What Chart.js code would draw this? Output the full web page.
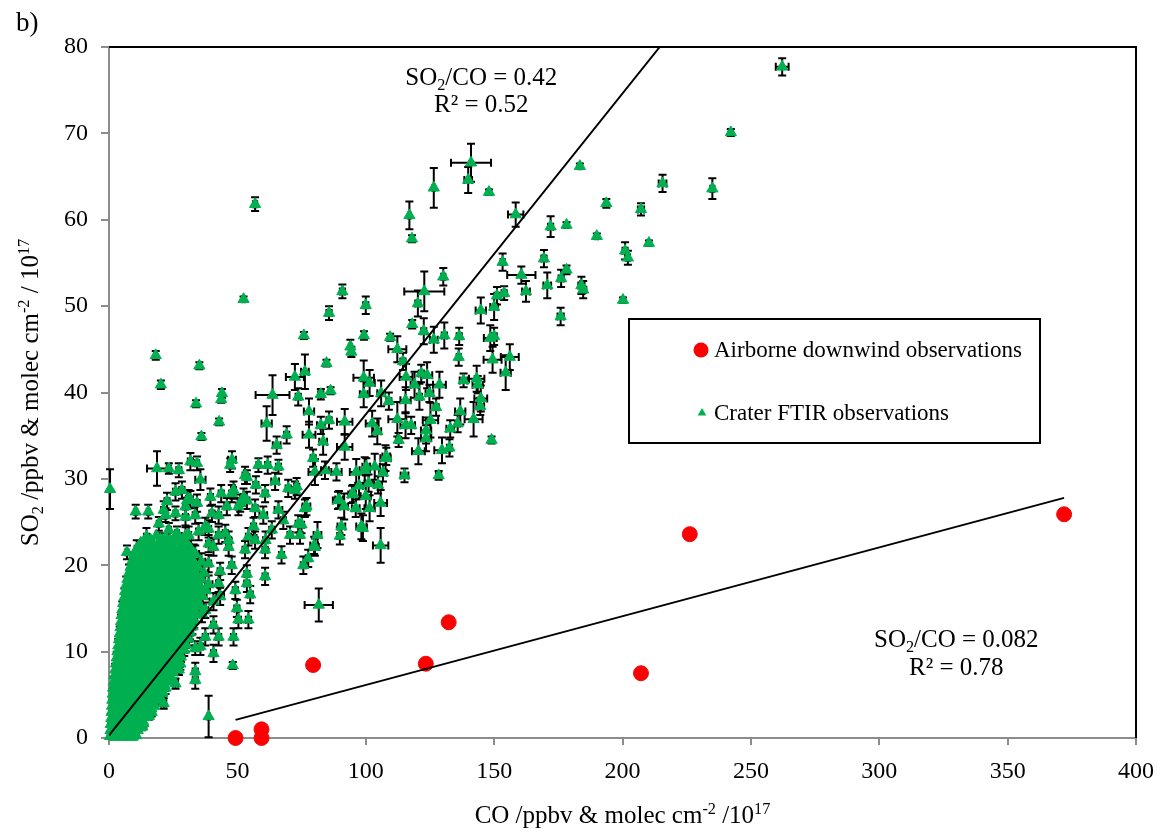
<!DOCTYPE html>
<html>
<head>
<meta charset="utf-8">
<script src="https://cdn.jsdelivr.net/npm/chart.js@4/dist/chart.umd.min.js"></script>
<style>
  html, body { margin: 0; padding: 0; background: #ffffff; }
  #wrap { position: relative; width: 1166px; height: 833px; }
</style>
</head>
<body>
<div id="wrap"><canvas id="chart" width="1166" height="833"></canvas></div>
<script>
// ---- Airborne downwind observations (CO, SO2) ----
const airborneCO  = [49.3, 59.4, 59.4, 79.5, 123.4, 132.3, 207.2, 226.2, 372.0];
const airborneSO2 = [0.0, 0.0, 1.0, 8.45, 8.6, 13.4, 7.5, 23.6, 25.9];

// ---- Fit lines (end points) ----
const ftirFitCO  = [0, 214.5];
const ftirFitSO2 = [0.3, 80];
const airFitCO   = [49.3, 372];
const airFitSO2  = [2.1, 27.8];

// ---- Crater FTIR observations: [CO, SO2, CO error, SO2 error] ----
const ftirUpper = [
  [262.2,77.7,2.5,1.0],[242.2,70.1,0.8,0.4],[215.6,64.2,1.5,1.0],[235.0,63.6,0.8,1.2],[207.2,61.2,1.2,0.7],
  [193.7,61.9,0.6,0.5],[183.4,66.2,0.5,0.3],[148.0,63.2,0.6,0.3],[141.0,66.6,7.8,2.2],[139.9,64.6,1.5,1.5],
  [126.5,63.7,0.5,2.3],[117.0,60.5,0.5,1.6],[118.0,57.8,0.5,0.4],[158.4,60.6,3.0,1.4],[172.0,59.2,1.0,1.2],
  [178.2,59.4,0.6,0.3],[201.0,56.4,1.0,1.0],[202.1,55.6,0.8,0.8],[210.3,57.3,0.5,0.3],[200.2,50.7,0.5,0.3],
  [190.0,58.1,0.5,0.3],[184.0,52.4,1.2,1.0],[184.7,51.9,1.2,1.0],[56.9,61.8,0.8,0.8],[52.4,50.8,0.5,0.3],
  [160.6,53.6,5.5,1.0],[162.4,51.7,1.5,1.2],[170.7,52.4,1.5,1.5],[169.4,55.5,1.0,1.0],[153.3,55.1,0.8,1.0],
  [176.1,53.2,1.0,1.0],[178.2,54.2,0.7,0.5],[175.9,48.8,1.2,1.0],[151.1,51.2,1.0,1.0],[153.9,51.5,1.0,0.8],
  [150.0,49.9,1.5,1.5],[144.8,49.5,2.0,1.5],[130.2,53.4,0.8,1.0],[122.8,51.7,7.8,2.3],[120.3,50.3,1.0,1.5],
  [118.1,47.9,0.8,0.5],[122.6,47.1,1.0,1.5],[126.5,46.1,1.5,1.5],[130.6,46.6,1.0,1.5],[136.4,46.5,1.0,1.0],
  [148.5,46.3,2.5,1.5],[150.0,46.5,1.0,1.0],[85.7,49.2,1.0,0.8],[90.9,51.7,1.0,0.8],[100.0,50.1,1.0,1.0],
  [94.0,45.3,0.6,0.8],[99.3,46.6,0.6,0.5],[109.5,46.4,0.6,0.4],[112.3,45.0,3.5,1.5],[75.9,46.6,0.5,0.4]
];

const ftirMiddle = [
  [94.4,44.7,0.6,0.6],[114.5,43.6,1.0,1.0],[136.2,44.1,0.8,1.0],[84.7,43.4,0.5,0.4],[86.3,40.2,0.5,0.4],
  [82.5,39.8,1.0,0.6],[72.4,41.8,3.5,1.5],[76.3,42.4,1.5,2.0],[35.2,43.1,0.5,0.4],[18.2,44.3,0.5,0.5],
  [20.2,40.9,0.5,0.5],[33.9,38.7,0.5,0.4],[44.0,39.9,0.5,0.5],[43.7,39.2,0.5,0.4],[42.9,36.6,0.5,0.4],
  [36.0,34.9,0.5,0.4],[31.7,32.0,1.0,1.0],[34.3,31.8,0.8,0.8],[35.6,29.9,2.0,1.2],[47.9,32.2,1.5,1.0],
  [47.2,31.6,1.0,0.8],[53.0,30.4,1.0,1.0],[58.2,31.6,0.8,0.8],[61.4,36.4,2.0,2.0],[63.7,39.7,6.6,2.3],
  [65.3,33.9,1.5,1.0],[69.2,35.1,1.0,1.0],[61.8,31.6,1.0,1.0],[66.0,31.4,1.0,0.8],[99.2,41.7,4.0,2.0],
  [101.5,41.1,2.0,1.5],[99.2,39.8,1.5,1.5],[106.0,39.9,1.5,1.5],[109.0,39.0,1.0,1.0],[115.7,41.8,2.5,1.5],
  [119.0,40.9,1.5,1.5],[121.6,42.2,1.0,1.0],[123.9,42.0,2.0,1.5],[128.7,40.9,2.5,1.5],[120.9,39.5,1.0,1.5],
  [124.8,39.9,1.5,1.0],[115.5,39.1,2.0,1.5],[127.4,38.3,1.0,1.0],[91.8,36.6,3.0,1.5],[85.7,36.8,1.0,1.0],
  [82.5,36.2,1.5,1.0],[77.9,37.8,2.0,1.5],[73.7,39.5,1.0,1.0],[77.9,35.1,2.5,1.5],[83.4,34.3,1.5,1.5],
  [91.8,33.7,3.0,1.5],[79.5,32.4,1.0,1.0],[102.5,36.4,2.5,1.5],[104.5,35.5,1.5,1.5],[112.3,36.9,3.5,2.0],
  [115.5,36.2,2.0,1.5],[117.7,36.2,1.5,1.0],[123.5,35.6,2.0,1.5],[125.2,36.8,3.0,2.0],[136.8,37.8,2.0,1.5],
  [132.9,35.8,1.5,1.0],[135.8,36.4,1.0,1.0],[142.0,36.9,3.5,2.0],[144.8,39.3,2.5,1.5],[144.6,38.4,1.5,1.0],
  [143.2,41.6,3.0,1.5],[143.6,40.9,2.0,1.0],[138.1,41.4,1.5,0.8],[149.4,43.8,3.5,1.5],[154.5,42.3,2.0,2.0],
  [156.1,44.1,3.5,1.5],[149.0,34.5,0.6,0.4],[128.4,30.4,1.0,0.5],[132.6,33.6,1.0,1.0],[129.7,33.3,3.0,1.5],
  [120.5,33.2,2.5,1.5],[123.5,34.7,2.0,1.5],[115.1,30.4,1.5,0.8],[112.8,34.5,1.0,0.8],[107.7,32.4,2.0,1.5],
  [106.7,30.7,1.5,1.0],[103.5,31.4,2.0,1.5],[99.6,31.0,2.0,1.5],[96.3,30.8,2.5,1.5],[88.6,30.8,2.0,1.0],
  [84.1,31.0,1.5,1.0],[80.2,30.8,2.5,1.5],[100.2,31.4,1.5,1.0],[108.0,32.6,1.5,1.0],[18.7,31.2,3.9,2.0],
  [23.3,31.2,0.8,0.6],[27.2,31.0,1.0,0.8],[53.7,30.2,1.0,0.8],[0.4,28.8,0.3,2.3],[64.7,29.7,1.5,1.0]
];

const ftirLower = [
  [105.8,27.2,2.5,1.5],[101.5,26.6,2.0,1.5],[96.1,26.6,1.5,1.0],[91.6,26.8,1.5,1.5],[94.7,28.2,1.5,1.0],
  [100.0,28.0,2.0,1.5],[97.4,29.2,1.5,1.5],[101.1,29.5,1.5,1.0],[104.8,29.3,1.5,1.0],[89.6,27.6,1.5,1.0],
  [98.9,24.3,1.5,1.5],[89.9,23.4,1.0,1.0],[105.8,22.3,3.0,2.0],[81.2,23.5,1.5,1.5],[75.0,24.7,1.0,1.0],
  [76.9,26.8,1.5,1.0],[79.9,22.3,1.5,1.0],[66.0,26.4,1.5,1.0],[72.4,28.7,1.0,1.0],[69.8,28.9,1.0,1.0],
  [61.0,22.9,1.0,1.0],[56.3,24.5,1.0,1.0],[54.3,23.3,1.0,1.0],[46.6,22.9,1.0,1.0],[42.7,23.5,1.0,1.0],
  [38.8,24.2,1.0,1.0],[34.9,23.9,1.0,1.0],[31.0,23.5,1.0,1.0],[40.1,26.0,1.0,1.0],[45.9,26.8,1.0,1.0],
  [51.1,27.2,1.0,1.0],[56.9,26.6,1.0,1.0],[60.1,25.8,1.5,1.0],[60.8,28.3,1.0,1.0],[57.2,29.3,1.0,1.0],
  [52.4,27.9,1.0,1.0],[48.5,28.7,1.0,1.0],[43.7,28.3,1.0,1.0],[39.5,27.9,1.0,1.0],[34.3,27.2,1.0,1.0],
  [31.7,27.6,1.0,1.0],[28.4,28.7,1.0,1.0],[29.8,25.6,1.0,1.0],[25.9,28.5,1.0,1.0],[30.4,27.5,1.0,1.0],
  [22.6,27.4,1.0,1.0],[10.4,26.2,0.6,0.8],[15.3,26.2,0.6,0.8],[21.3,26.4,1.0,1.0],[47.8,28.3,1.0,1.0],
  [50.4,26.8,1.0,1.0],[53.7,27.5,1.0,1.0],[73.1,29.1,1.0,1.0],[76.3,26.6,1.0,1.0],[89.2,27.5,2.0,1.0],
  [95.0,28.3,1.0,1.0],[90.5,24.5,1.5,1.0],[98.3,24.5,2.0,1.5],[80.2,22.1,1.5,1.0],[77.6,20.8,1.0,1.0],
  [75.7,20.0,1.0,1.0],[67.2,21.2,1.0,1.0],[60.8,18.7,1.0,1.0],[55.0,16.6,1.0,1.0],[53.7,17.9,1.0,1.0],
  [49.2,17.1,1.0,1.0],[50.4,13.7,1.0,1.0],[54.3,13.7,1.0,1.0],[49.8,15.0,1.0,1.0],[48.5,11.7,1.0,1.0],
  [42.7,11.7,1.0,1.0],[40.7,9.8,1.0,1.0],[37.5,11.7,1.0,1.0],[35.6,10.6,1.0,1.0],[33.6,7.7,1.0,1.0],
  [33.6,6.7,1.0,1.0],[38.8,2.5,0.5,2.4],[48.2,8.4,0.5,0.4],[40.7,13.1,1.0,1.0],[36.2,14.4,1.0,1.0],
  [42.7,17.9,1.0,1.0],[46.6,22.1,1.0,1.0],[40.7,22.1,1.0,1.0],[33.0,21.4,1.0,1.0],[29.8,20.6,1.0,1.0],
  [33.6,18.7,1.0,1.0],[38.8,20.2,1.0,1.0],[43.3,19.3,1.0,1.0],[47.8,20.0,1.0,1.0],[53.7,19.0,1.0,1.0],
  [53.0,21.8,1.0,1.0],[56.9,22.9,1.0,1.0],[60.8,21.8,1.0,1.0],[63.4,24.1,1.0,1.0],[70.5,23.5,1.0,1.0],
  [74.4,23.5,1.0,1.0],[67.9,25.2,1.0,1.0],[73.7,24.8,1.0,1.0],[81.7,15.4,5.5,1.9],[7.8,18.3,0.6,0.8],
  [11.0,17.9,0.6,0.8],[14.2,18.3,0.8,0.8],[7.1,15.2,0.6,0.8],[15.5,20.6,0.8,0.8],[18.1,21.4,0.8,0.8],
  [20.7,22.9,0.8,0.8],[23.3,24.1,0.8,0.8],[26.5,23.7,0.8,0.8],[19.4,24.8,0.8,0.8],[22.0,25.8,0.8,0.8],
  [25.9,26.0,0.8,0.8],[29.8,26.8,1.0,1.0],[31.0,27.7,1.0,1.0],[33.6,25.8,1.0,1.0],[37.5,24.5,1.0,1.0],
  [42.7,25.8,1.0,1.0],[45.3,23.7,1.0,1.0],[38.8,22.5,1.0,1.0],[7.0,21.5,0.6,0.8]
];

// Dense core near the origin: [CO, SO2] or [CO, SO2, CO error, SO2 error]
const ftirCore = [
  [0.4,0.2],[2.1,0.1],[3.8,0.3],[5.6,0.1],[7.3,0.2],[9.0,0.1],[10.6,0.3,0.6,0.3],
  [0.6,0.9,0.3,0.4],[2.4,1.0],[4.1,0.8],[5.9,0.9],[7.7,1.0],[9.4,0.8],[11.2,0.9],[12.9,1.3,0.8,0.4],
  [0.7,1.6],[2.6,1.7],[4.4,1.5],[6.2,1.6],[8.1,1.7],[9.9,1.5],[11.7,1.6],[13.4,1.7,0.7,0.5],
  [0.9,2.3,0.4,0.5],[2.8,2.4],[4.7,2.2],[6.6,2.3],[8.5,2.4],[10.4,2.2],[12.3,2.3],[14.1,2.4],[15.5,2.5,0.8,0.4],
  [1.0,3.0],[3.0,3.1],[5.0,2.9],[7.0,3.0],[9.0,3.1],[11.0,2.9],[13.0,3.0],[15.0,3.1],[16.6,3.0,0.9,0.5],
  [1.2,3.7,0.5,0.6],[3.3,3.8],[5.3,3.6],[7.4,3.7],[9.4,3.8],[11.5,3.6],[13.5,3.7],[15.6,3.8],[17.6,3.7],[21.3,4.0,1.0,0.6],
  [1.3,4.4],[3.5,4.5],[5.6,4.3],[7.8,4.4],[9.9,4.5],[12.0,4.3],[14.2,4.4],[16.3,4.5],[18.5,4.4,1.0,0.5],
  [1.5,5.1,0.5,0.6],[3.7,5.2],[5.9,5.0],[8.1,5.1],[10.3,5.2],[12.5,5.0],[14.7,5.1],[16.9,5.2],[19.1,5.0],[20.8,5.2,1.0,0.6],
  [1.6,5.8],[3.9,5.9],[6.2,5.7],[8.5,5.8],[10.8,5.9],[13.0,5.7],[15.3,5.8],[17.6,5.9],[19.9,5.7],[22.0,5.8,1.0,0.7],
  [1.8,6.5,0.5,0.6],[4.1,6.6],[6.5,6.4],[8.8,6.5],[11.2,6.6],[13.5,6.4],[15.9,6.5],[18.2,6.6],[20.6,6.4],[22.9,6.5],[25.9,6.3,1.0,0.6],
  [2.1,7.2],[4.5,7.3],[6.9,7.1],[9.3,7.2],[11.7,7.3],[14.1,7.1],[16.5,7.2],[18.9,7.3],[21.3,7.1],[23.7,7.2,1.0,0.6],
  [2.4,7.9,0.6,0.7],[4.8,8.0],[7.3,7.8],[9.7,7.9],[12.2,8.0],[14.6,7.8],[17.1,7.9],[19.5,8.0],[22.0,7.8],[24.4,7.9],[27.2,7.9,1.0,0.6],
  [2.7,8.6],[5.2,8.7],[7.7,8.5],[10.2,8.6],[12.7,8.7],[15.2,8.5],[17.7,8.6],[20.2,8.7],[22.7,8.5],[25.2,8.6],[27.8,8.6,1.0,0.7],
  [3.0,9.3,0.6,0.7],[5.5,9.4],[8.1,9.2],[10.6,9.3],[13.2,9.4],[15.7,9.2],[18.3,9.3],[20.8,9.4],[23.4,9.2],[25.9,9.3],[28.0,9.4,1.0,0.6],
  [3.3,10.0],[5.9,10.1],[8.5,9.9],[11.1,10.0],[13.7,10.1],[16.3,9.9],[18.9,10.0],[21.5,10.1],[24.1,9.9],[26.7,10.0],[29.3,10.2,1.0,0.7],
  [3.6,10.7,0.6,0.8],[6.2,10.8],[8.9,10.6],[11.5,10.7],[14.2,10.8],[16.8,10.6],[19.5,10.7],[22.1,10.8],[24.8,10.6],[27.4,10.7],[30.0,10.8,1.2,0.8],[33.6,10.4,1.0,0.8],
  [3.9,11.4],[6.6,11.5],[9.3,11.3],[12.0,11.4],[14.7,11.5],[17.4,11.3],[20.1,11.4],[22.8,11.5],[25.5,11.3],[28.2,11.4],[30.9,11.5,1.2,0.8],
  [4.2,12.1,0.7,0.8],[6.9,12.2],[9.7,12.0],[12.4,12.1],[15.2,12.2],[17.9,12.0],[20.7,12.1],[23.4,12.2],[26.2,12.0],[28.9,12.1],[31.6,12.2,1.2,0.8],
  [4.5,12.8],[7.3,12.9],[10.1,12.7],[12.9,12.8],[15.7,12.9],[18.5,12.7],[21.3,12.8],[24.1,12.9],[26.9,12.7],[29.7,12.8],[32.5,12.9,1.2,0.9],
  [4.7,13.5,0.7,0.8],[7.6,13.6],[10.4,13.4],[13.3,13.5],[16.1,13.6],[19.0,13.4],[21.8,13.5],[24.7,13.6],[27.5,13.4],[30.4,13.5],[33.2,13.6,1.2,0.9],
  [4.9,14.2],[7.8,14.3],[10.7,14.1],[13.6,14.2],[16.5,14.3],[19.4,14.1],[22.3,14.2],[25.2,14.3],[28.1,14.1],[31.0,14.2],[33.9,14.3,1.5,1.0],[37.5,14.8,1.2,0.9],
  [5.2,14.9,0.7,0.9],[8.1,15.0],[11.1,14.8],[14.0,14.9],[17.0,15.0],[19.9,14.8],[22.9,14.9],[25.8,15.0],[28.8,14.8],[31.7,14.9],[35.6,15.2,1.2,0.9],
  [5.5,15.6],[8.5,15.7],[11.5,15.5],[14.5,15.6],[17.5,15.7],[20.5,15.5],[23.5,15.6],[26.5,15.7],[29.5,15.5],[32.5,15.6],[40.7,15.8,1.5,1.0],
  [6.0,16.3,0.8,1.0],[9.0,16.4],[12.1,16.2],[15.1,16.3],[18.2,16.4],[21.2,16.2],[24.3,16.3],[27.3,16.4],[30.4,16.2],[33.4,16.3],[36.5,16.4,1.5,1.0],[43.3,16.4,1.5,1.0],
  [6.3,17.0],[9.4,17.1],[12.5,16.9],[15.6,17.0],[18.7,17.1],[21.8,16.9],[24.9,17.0],[28.0,17.1],[31.1,16.9],[34.2,17.0],[37.8,17.1,1.5,1.0],
  [6.7,17.7,0.8,1.0],[9.9,17.8],[13.0,17.6],[16.2,17.7],[19.3,17.8],[22.5,17.6],[25.6,17.7],[28.8,17.8],[31.9,17.6],[35.1,17.7],[38.8,17.8,1.5,1.0],
  [7.2,18.4],[10.4,18.5],[13.6,18.3],[16.8,18.4],[20.0,18.5],[23.2,18.3],[26.4,18.4],[29.6,18.5],[32.8,18.3],[36.0,18.4,1.5,1.0],
  [7.8,19.1,0.8,1.0],[11.0,19.2],[14.3,19.0],[17.5,19.1],[20.8,19.2],[24.0,19.0],[27.3,19.1],[30.5,19.2],[33.8,19.0],[37.0,19.1,1.5,1.0],
  [8.4,19.8],[11.7,19.9],[15.0,19.7],[18.3,19.8],[21.6,19.9],[24.9,19.7],[28.2,19.8],[31.5,19.9],[34.8,19.7,1.5,1.0],
  [9.0,20.5,0.8,1.0],[12.4,20.6],[15.7,20.4],[19.1,20.5],[22.4,20.6],[25.8,20.4],[29.1,20.5],[32.5,20.6],[36.0,20.4,1.5,1.0],
  [9.8,21.2],[13.2,21.3],[16.6,21.1],[20.0,21.2],[23.4,21.3],[26.8,21.1],[30.2,21.2],[33.6,21.3,1.5,1.0],
  [10.8,21.9,0.8,1.0],[14.3,22.0],[17.8,21.8],[21.3,21.9],[24.8,22.0],[28.3,21.8],[31.8,21.9,1.5,1.0],
  [12.4,22.6],[16.0,22.7],[19.6,22.5],[23.2,22.6],[26.8,22.7],[30.4,22.5,1.5,1.0],
  [14.6,23.3,1.0,1.0],[18.4,23.4],[22.2,23.2],[26.0,23.3],[29.8,23.4,1.5,1.0]
];

// More of the dense core, lying between the rows above
const ftirCoreFill = [
  [1.3,0.55],[3.0,0.5],[4.7,0.6],[6.5,0.55],[8.2,0.5],[9.9,0.6],
  [1.5,1.25],[3.3,1.3],[5.1,1.2],[7.0,1.25],[8.8,1.3],[10.6,1.2],[12.3,1.25],
  [1.7,1.95],[3.6,2.0],[5.5,1.9],[7.5,1.95],[9.4,2.0],[11.3,1.9],[13.2,1.95],
  [1.9,2.65],[3.9,2.7],[5.9,2.6],[7.9,2.65],[9.9,2.7],[11.9,2.6],[13.9,2.65],[15.6,2.7],
  [2.1,3.35],[4.2,3.4],[6.2,3.3],[8.3,3.35],[10.4,3.4],[12.4,3.3],[14.5,3.35],[16.5,3.4],
  [2.3,4.05],[4.4,4.1],[6.6,4.0],[8.7,4.05],[10.8,4.1],[12.9,4.0],[15.1,4.05],[17.2,4.1],
  [2.5,4.75],[4.7,4.8],[6.9,4.7],[9.1,4.75],[11.3,4.8],[13.5,4.7],[15.7,4.75],[17.9,4.8],[19.8,4.7],
  [2.7,5.45],[5.0,5.5],[7.3,5.4],[9.6,5.45],[11.8,5.5],[14.1,5.4],[16.4,5.45],[18.7,5.5],[20.8,5.4],
  [2.9,6.15],[5.2,6.2],[7.6,6.1],[9.9,6.15],[12.3,6.2],[14.6,6.1],[17.0,6.15],[19.3,6.2],[21.6,6.1],
  [3.1,6.85],[5.5,6.9],[7.9,6.8],[10.3,6.85],[12.7,6.9],[15.1,6.8],[17.5,6.85],[19.9,6.9],[22.3,6.8],[24.0,6.85],
  [3.3,7.55],[5.7,7.6],[8.2,7.5],[10.7,7.55],[13.1,7.6],[15.6,7.5],[18.0,7.55],[20.5,7.6],[22.9,7.5],[24.8,7.55],
  [3.5,8.25],[6.0,8.3],[8.5,8.2],[11.0,8.25],[13.5,8.3],[16.0,8.2],[18.5,8.25],[21.0,8.3],[23.5,8.2],[25.8,8.25],
  [3.9,8.95],[6.4,9.0],[9.0,8.9],[11.5,8.95],[14.1,9.0],[16.6,8.9],[19.2,8.95],[21.7,9.0],[24.3,8.9],[26.7,8.95],
  [4.2,9.65],[6.8,9.7],[9.4,9.6],[12.0,9.65],[14.6,9.7],[17.2,9.6],[19.8,9.65],[22.4,9.7],[25.0,9.6],[27.6,9.65],
  [4.6,10.35],[7.2,10.4],[9.9,10.3],[12.5,10.35],[15.2,10.4],[17.8,10.3],[20.5,10.35],[23.1,10.4],[25.8,10.3],[28.4,10.35],
  [4.9,11.05],[7.6,11.1],[10.3,11.0],[13.0,11.05],[15.7,11.1],[18.4,11.0],[21.1,11.05],[23.8,11.1],[26.5,11.0],[29.2,11.05],
  [5.2,11.75],[7.9,11.8],[10.7,11.7],[13.4,11.75],[16.2,11.8],[18.9,11.7],[21.7,11.75],[24.4,11.8],[27.2,11.7],[29.9,11.75],
  [5.5,12.45],[8.3,12.5],[11.1,12.4],[13.9,12.45],[16.7,12.5],[19.5,12.4],[22.3,12.45],[25.1,12.5],[27.9,12.4],[30.7,12.45],
  [5.8,13.15],[8.6,13.2],[11.5,13.1],[14.3,13.15],[17.2,13.2],[20.0,13.1],[22.9,13.15],[25.7,13.2],[28.6,13.1],[31.4,13.15],
  [6.1,13.85],[9.0,13.9],[11.9,13.8],[14.8,13.85],[17.7,13.9],[20.6,13.8],[23.5,13.85],[26.4,13.9],[29.3,13.8],[32.2,13.85],
  [6.3,14.55],[9.3,14.6],[12.3,14.5],[15.3,14.55],[18.2,14.6],[21.2,14.5],[24.1,14.55],[27.1,14.6],[30.0,14.5],[33.0,14.55],
  [6.6,15.25],[9.6,15.3],[12.6,15.2],[15.6,15.25],[18.7,15.3],[21.7,15.2],[24.7,15.25],[27.7,15.3],[30.8,15.2],[33.8,15.25],
  [7.0,15.95],[10.0,16.0],[13.1,15.9],[16.1,15.95],[19.2,16.0],[22.2,15.9],[25.3,15.95],[28.3,16.0],[31.4,15.9],[34.4,15.95],
  [7.5,16.65],[10.5,16.7],[13.6,16.6],[16.7,16.65],[19.8,16.7],[22.9,16.6],[26.0,16.65],[29.1,16.7],[32.2,16.6],[35.3,16.65],
  [7.9,17.35],[11.0,17.4],[14.1,17.3],[17.2,17.35],[20.3,17.4],[23.4,17.3],[26.5,17.35],[29.6,17.4],[32.7,17.3],[35.8,17.35],
  [8.4,18.05],[11.6,18.1],[14.8,18.0],[18.0,18.05],[21.2,18.1],[24.4,18.0],[27.6,18.05],[30.8,18.1],[34.0,18.0],
  [8.9,18.75],[12.1,18.8],[15.3,18.7],[18.5,18.75],[21.7,18.8],[24.9,18.7],[28.1,18.75],[31.3,18.8],[34.5,18.7],
  [9.6,19.45],[12.9,19.5],[16.2,19.4],[19.5,19.45],[22.8,19.5],[26.1,19.4],[29.4,19.45],[32.7,19.5],
  [10.2,20.15],[13.5,20.2],[16.8,20.1],[20.1,20.15],[23.4,20.2],[26.7,20.1],[30.0,20.15],[33.3,20.2],
  [11.0,20.85],[14.4,20.9],[17.8,20.8],[21.2,20.85],[24.6,20.9],[28.0,20.8],[31.4,20.85],
  [12.0,21.55],[15.5,21.6],[19.0,21.5],[22.5,21.55],[26.0,21.6],[29.5,21.5],
  [13.8,22.25],[17.4,22.3],[21.0,22.2],[24.6,22.25],[28.2,22.3],
  [16.2,22.95],[20.0,23.0],[23.8,22.9],[27.6,22.95]
];

// ---- Axis ticks ----
const coTicks  = [0, 50, 100, 150, 200, 250, 300, 350, 400];
const so2Ticks = [0, 10, 20, 30, 40, 50, 60, 70, 80];

// ---- Text ----
const xTitleRuns = [{t: 'CO /ppbv & molec cm'}, {t: '-2', sup: true}, {t: ' /10'}, {t: '17', sup: true}];
const yTitleRuns = [{t: 'SO'}, {t: '2', sub: true}, {t: ' /ppbv & molec cm'}, {t: '-2', sup: true}, {t: ' / 10'}, {t: '17', sup: true}];
const ftirRatioRuns = [{t: 'SO'}, {t: '2', sub: true}, {t: '/CO = 0.42'}];
const ftirR2 = 'R² = 0.52';
const airRatioRuns = [{t: 'SO'}, {t: '2', sub: true}, {t: '/CO = 0.082'}];
const airR2 = 'R² = 0.78';

const SERIF = '"Liberation Serif", "Times New Roman", serif';
const GREEN = '#00b050';
const RED = '#ff0000';
const AXIS_GREY = '#8c8c8c';

const toPoint = r => ({x: r[0], y: r[1], xErr: r[2] || 0, yErr: r[3] || 0});
const ftirPoints = [...ftirCore, ...ftirCoreFill, ...ftirLower, ...ftirMiddle, ...ftirUpper].map(toPoint);
const airPoints = airborneCO.map((v, i) => ({x: v, y: airborneSO2[i]}));

function drawRuns(ctx, runs, x, y, size, align) {
  const parts = runs.map(r => {
    const s = (r.sub || r.sup) ? size * 0.65 : size;
    ctx.font = `${s}px ${SERIF}`;
    return {t: r.t, s, w: ctx.measureText(r.t).width, dy: r.sub ? size * 0.2 : (r.sup ? -size * 0.38 : 0)};
  });
  const total = parts.reduce((a, p) => a + p.w, 0);
  let cx = align === 'center' ? x - total / 2 : x;
  ctx.textAlign = 'left';
  ctx.textBaseline = 'alphabetic';
  for (const p of parts) {
    ctx.font = `${p.s}px ${SERIF}`;
    ctx.fillText(p.t, cx, y + p.dy);
    cx += p.w;
  }
}

// Error bars (drawn beneath the markers) and plot frame
const errorBarPlugin = {
  id: 'errorBars',
  beforeDatasetsDraw(chart) {
    const {ctx, chartArea: a, scales: {x, y}} = chart;
    ctx.save();
    // top and right frame lines
    ctx.strokeStyle = '#000';
    ctx.lineWidth = 2;
    ctx.beginPath();
    ctx.moveTo(a.left, a.top);
    ctx.lineTo(a.right, a.top);
    ctx.lineTo(a.right, a.bottom);
    ctx.stroke();

    ctx.lineWidth = 2;
    ctx.strokeStyle = '#000';
    const cap = 4;
    chart.data.datasets.forEach(ds => {
      if (!ds.errorBars) return;
      ds.data.forEach(p => {
        const px = x.getPixelForValue(p.x);
        const py = y.getPixelForValue(p.y);
        ctx.beginPath();
        if (p.yErr) {
          const y1 = y.getPixelForValue(p.y - p.yErr);
          const y2 = y.getPixelForValue(p.y + p.yErr);
          ctx.moveTo(px, y1); ctx.lineTo(px, y2);
          ctx.moveTo(px - cap, y1); ctx.lineTo(px + cap, y1);
          ctx.moveTo(px - cap, y2); ctx.lineTo(px + cap, y2);
        }
        if (p.xErr) {
          const x1 = x.getPixelForValue(p.x - p.xErr);
          const x2 = x.getPixelForValue(p.x + p.xErr);
          ctx.moveTo(x1, py); ctx.lineTo(x2, py);
          ctx.moveTo(x1, py - cap); ctx.lineTo(x1, py + cap);
          ctx.moveTo(x2, py - cap); ctx.lineTo(x2, py + cap);
        }
        ctx.stroke();
      });
    });
    ctx.restore();
  }
};

// Titles, fit annotations, panel label and legend box
const textPlugin = {
  id: 'texts',
  afterDraw(chart) {
    const {ctx, chartArea: a, scales: {x, y}} = chart;
    ctx.save();
    ctx.fillStyle = '#000';

    // panel label
    ctx.font = `27px ${SERIF}`;
    ctx.textAlign = 'left';
    ctx.textBaseline = 'alphabetic';
    ctx.fillText('b)', 16, 31);

    // axis titles
    drawRuns(ctx, xTitleRuns, (a.left + a.right) / 2, 823, 25, 'center');
    ctx.save();
    ctx.translate(38, (a.top + a.bottom) / 2);
    ctx.rotate(-Math.PI / 2);
    drawRuns(ctx, yTitleRuns, 0, 0, 25, 'center');
    ctx.restore();

    // fit annotations
    drawRuns(ctx, ftirRatioRuns, x.getPixelForValue(145), y.getPixelForValue(75.6), 25, 'center');
    drawRuns(ctx, [{t: ftirR2}], x.getPixelForValue(145), y.getPixelForValue(72.5), 25, 'center');
    drawRuns(ctx, airRatioRuns, x.getPixelForValue(330), y.getPixelForValue(10.5), 25, 'center');
    drawRuns(ctx, [{t: airR2}], x.getPixelForValue(330), y.getPixelForValue(7.3), 25, 'center');

    // legend box
    const bx = 629, by = 319, bw = 411, bh = 124;
    ctx.fillStyle = '#fff';
    ctx.fillRect(bx, by, bw, bh);
    ctx.strokeStyle = '#000';
    ctx.lineWidth = 2;
    ctx.strokeRect(bx, by, bw, bh);

    const items = chart.data.datasets.filter(d => d.legendMarker);
    items.forEach((d, i) => {
      const cy = by + 31 + i * 63;
      ctx.fillStyle = d.backgroundColor;
      ctx.beginPath();
      if (d.legendMarker === 'circle') {
        ctx.arc(bx + 72, cy, 7.5, 0, Math.PI * 2);
      } else {
        const r = 5;
        ctx.moveTo(bx + 73, cy - r);
        ctx.lineTo(bx + 73 + r * 0.866, cy + r * 0.5);
        ctx.lineTo(bx + 73 - r * 0.866, cy + r * 0.5);
        ctx.closePath();
      }
      ctx.fill();
      ctx.fillStyle = '#000';
      ctx.font = `23px ${SERIF}`;
      ctx.textAlign = 'left';
      ctx.textBaseline = 'middle';
      ctx.fillText(d.label, bx + 85, cy + 1);
    });
    ctx.restore();
  }
};

new Chart(document.getElementById('chart'), {
  type: 'scatter',
  data: {
    datasets: [
      {
        type: 'line', label: 'ftir fit',
        data: ftirFitCO.map((v, i) => ({x: v, y: ftirFitSO2[i]})),
        borderColor: '#000', borderWidth: 2, pointRadius: 0, fill: false, order: 0
      },
      {
        type: 'line', label: 'airborne fit',
        data: airFitCO.map((v, i) => ({x: v, y: airFitSO2[i]})),
        borderColor: '#000', borderWidth: 2, pointRadius: 0, fill: false, order: 0
      },
      {
        label: 'Airborne downwind observations', legendMarker: 'circle',
        data: airPoints, pointStyle: 'circle', pointRadius: 7.5,
        backgroundColor: RED, borderColor: '#e31010', borderWidth: 1, clip: false, order: 1
      },
      {
        label: 'Crater FTIR observations', legendMarker: 'triangle', errorBars: true,
        data: ftirPoints, pointStyle: 'triangle', pointRadius: 6.5,
        backgroundColor: GREEN, borderColor: GREEN, borderWidth: 1, clip: false, order: 2
      }
    ]
  },
  options: {
    responsive: false,
    animation: false,
    devicePixelRatio: 1,
    layout: {padding: {left: 0, top: 47, right: 26, bottom: 0}},
    plugins: {legend: {display: false}, tooltip: {enabled: false}},
    scales: {
      x: {
        type: 'linear', min: 0, max: 400,
        afterBuildTicks: s => { s.ticks = coTicks.map(v => ({value: v})); },
        afterFit: s => { s.height = 95; },
        ticks: {color: '#000', font: {family: SERIF, size: 24}, padding: 12, maxRotation: 0},
        grid: {drawOnChartArea: false, drawTicks: true, tickLength: 7, color: AXIS_GREY, lineWidth: 2},
        border: {color: AXIS_GREY, width: 2}
      },
      y: {
        type: 'linear', min: 0, max: 80,
        afterBuildTicks: s => { s.ticks = so2Ticks.map(v => ({value: v})); },
        afterFit: s => { s.width = 109; },
        ticks: {color: '#000', font: {family: SERIF, size: 24}, padding: 13},
        grid: {drawOnChartArea: false, drawTicks: true, tickLength: 8, color: AXIS_GREY, lineWidth: 2},
        border: {color: AXIS_GREY, width: 2}
      }
    }
  },
  plugins: [errorBarPlugin, textPlugin]
});
</script>
</body>
</html>
